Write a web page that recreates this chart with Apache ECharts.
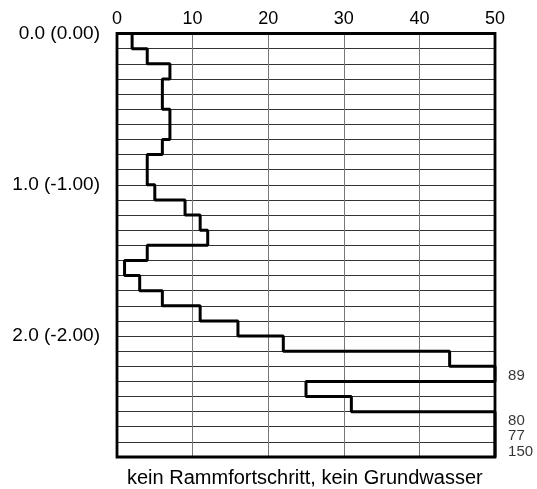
<!DOCTYPE html>
<html>
<head>
<meta charset="utf-8">
<script src="https://cdn.jsdelivr.net/npm/echarts@6/dist/echarts.min.js"></script>
<style>html,body{margin:0;padding:0;background:#fff}#c{width:537px;height:489px}</style>
</head>
<body>
<div id="c"></div>
<script>
// Blows per 10 cm, depth intervals 0.0-0.1, 0.1-0.2, ... 2.7-2.8 m
var depthStep = 0.1;
var blows = [2, 4, 7, 6, 6, 7, 7, 6, 4, 4,
             5, 9, 11, 12, 4, 1, 3, 6, 11, 16,
             22, 44, 89, 25, 31, 80, 77, 150];
var xTicks = [0, 10, 20, 30, 40, 50];
var depthLabels = {0: '0.0 (0.00)', 1: '1.0 (-1.00)', 2: '2.0 (-2.00)'};
var footnote = 'kein Rammfortschritt, kein Grundwasser';
var xMax = 50;

var stepPts = [];
var overLabels = [];
blows.forEach(function (v, i) {
  var x = Math.min(v, xMax);
  stepPts.push([x, i * depthStep]);
  stepPts.push([x, (i + 1) * depthStep]);
  if (v > xMax) overLabels.push([xMax, (i + 0.5) * depthStep, v]);
});

var FONT = 'Liberation Sans';
var chart = echarts.init(document.getElementById('c'), null, {renderer: 'canvas'});
chart.setOption({
  animation: false,
  textStyle: {fontFamily: FONT},
  grid: {left: 117, top: 33.5, width: 378, height: 423.5, show: true,
         borderColor: '#000', borderWidth: 2.8, backgroundColor: 'transparent', z: 10},
  xAxis: {
    type: 'value', position: 'top', min: xTicks[0], max: xTicks[xTicks.length - 1], interval: 10,
    axisLine: {show: false}, axisTick: {show: false},
    axisLabel: {color: '#000', fontSize: 18, margin: 5, fontFamily: FONT},
    splitLine: {show: true, lineStyle: {color: '#777', width: 1}}
  },
  yAxis: {
    type: 'value', inverse: true, min: 0, max: blows.length * depthStep, interval: depthStep,
    axisLine: {show: false}, axisTick: {show: false},
    axisLabel: {color: '#000', fontSize: 19, margin: 17, fontFamily: FONT,
      formatter: function (v) {
        var r = Math.round(v);
        if (Math.abs(v - r) < 1e-6 && depthLabels[r] !== undefined) return depthLabels[r];
        return '';
      }},
    splitLine: {show: true, lineStyle: {color: '#333', width: 1}}
  },
  series: [
    {type: 'line', data: stepPts, symbol: 'none', lineStyle: {color: '#000', width: 3},
     z: 5, clip: true},
    {type: 'scatter', data: overLabels, symbolSize: 0.1, clip: false,
     itemStyle: {color: 'transparent'},
     label: {show: true, position: 'right', distance: 13, offset: [0, 2], color: '#000', fontSize: 15, fontFamily: FONT,
       formatter: function (p) { return String(p.value[2]); }}}
  ],
  graphic: [{type: 'text', left: 127, top: 468,
    style: {text: footnote, fill: '#000', font: '20px "' + FONT + '"'}}]
});
</script>
</body>
</html>
